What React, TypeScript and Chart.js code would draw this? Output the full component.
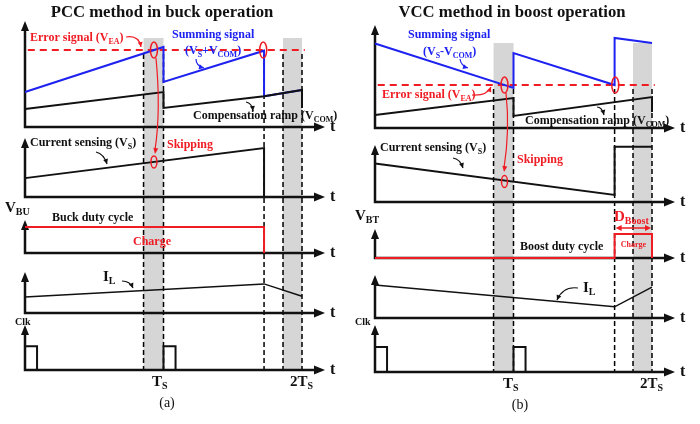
import { useEffect, useRef } from "react";
import { Chart, registerables } from "chart.js";
Chart.register(...registerables);

// ---------- data (time in units of Ts, values normalised per sub-plot: 0 = t-axis, 1 = arrow tip) ----------
const GRAY_BANDS = [[0.856, 1.0], [1.863, 2.0]];
const DASHED_T_A = [0.856, 1.0, 1.726, 1.863, 2.0];
const DASHED_T_B = [0.856, 1.0, 1.73, 1.863, 2.0];
const ERR_SPAN = [0.02, 2.02];

const CLK_T = [0, 0, 0.087, 0.087, 1.0, 1.0, 1.087, 1.087];
const CLK_V = [0, 0.53, 0.53, 0, 0, 0.53, 0.53, 0];

// (a) PCC buck
const A_VEA = 0.726;
const A_SUM_T = [0, 1.0, 1.0, 1.726, 1.726, 2.0];
const A_SUM_V = [0.33, 0.755, 0.425, 0.72, 0.29, 0.35];
const A_COMP_T = [0, 1.0, 1.0, 1.726, 2.0, 2.0];
const A_COMP_V = [0.17, 0.33, 0.18, 0.29, 0.35, 0.18];
const A_VS_T = [0, 1.726, 1.726];
const A_VS_V = [0.32, 0.83, 0];
const A_DUTY_T = [0, 1.726, 1.726];
const A_DUTY_V = [0.79, 0.79, 0];
const A_IL_T = [0, 1.726, 2.0];
const A_IL_V = [0.39, 0.71, 0.41];

// (b) VCC boost
const B_VEA = 0.417;
const B_SUM_T = [0, 1.0, 1.0, 1.73, 1.73, 2.0];
const B_SUM_V = [0.82, 0.39, 0.728, 0.417, 0.874, 0.825];
const B_COMP_T = [0, 1.0, 1.0, 2.0, 2.0];
const B_COMP_V = [0.126, 0.29, 0.117, 0.3, 0.155];
const B_VS_T = [0, 1.73, 1.73, 2.0];
const B_VS_V = [0.675, 0.125, 0.97, 0.97];
const B_DUTY_T = [0, 1.73, 1.73, 2.0, 2.0];
const B_DUTY_V = [0, 0, 0.83, 0.83, 0];
const B_IL_T = [0, 1.73, 2.0];
const B_IL_V = [0.77, 0.26, 0.72];

// ---------- styling / layout ----------
const RED = "#f01c24";
const BLUE = "#1e22f0";
const BLACK = "#111";
const GRAY = "#d6d6d6";
const W = 350;
const H = 424;
const PX_PER_TS = 138.5;
const ORIGIN_X = 25;
const SERIF = '"Liberation Serif", "Times New Roman", serif';

type Seg = [string, boolean];
type TextItem = { x: number; y: number; parts: Seg[]; size: number; color?: string; align?: string; weight?: string };
type Pointer = { p: number[]; color: string };

interface PanelCfg {
  bands: number[][]; // [arrowTipPx, axisPx] for 5 sub-plots
  grayTop: number;
  dashed: number[];
  vea: number;
  ellipses: { t: number; sub: number; v: number; rx: number; ry: number }[];
  skip: number[];
  texts: TextItem[];
  pointers: Pointer[];
  dboost?: boolean;
  datasets: { t: number[]; v: number[]; sub: number; color: string; dash?: number[]; width?: number }[];
}

const PANEL_A: PanelCfg = {
  bands: [[21, 127], [138, 197], [220, 253], [272, 313], [325, 370]],
  grayTop: 0.84,
  dashed: DASHED_T_A,
  vea: A_VEA,
  ellipses: [
    { t: 0.931, sub: 0, v: A_VEA, rx: 3.5, ry: 8 },
    { t: 1.72, sub: 0, v: A_VEA, rx: 3.5, ry: 8 },
    { t: 0.931, sub: 1, v: 0.595, rx: 3, ry: 6 },
  ],
  skip: [156, 58, 161, 110, 155, 154],
  texts: [
    { x: 162, y: 13, parts: [["PCC method in buck operation", false]], size: 16.7, align: "center" },
    { x: 30, y: 38, parts: [["Error signal (V", false], ["EA", true], [")", false]], size: 12, color: RED },
    { x: 172, y: 35, parts: [["Summing signal", false]], size: 12, color: BLUE },
    { x: 185, y: 51, parts: [["(V", false], ["S", true], ["+V", false], ["COM", true], [")", false]], size: 12, color: BLUE },
    { x: 193, y: 116, parts: [["Compensation ramp (V", false], ["COM", true], [")", false]], size: 12 },
    { x: 30, y: 143, parts: [["Current sensing (V", false], ["S", true], [")", false]], size: 12 },
    { x: 167, y: 145, parts: [["Skipping", false]], size: 12, color: RED },
    { x: 5, y: 208, parts: [["V", false], ["BU", true]], size: 15 },
    { x: 52, y: 218, parts: [["Buck duty cycle", false]], size: 12 },
    { x: 133, y: 242, parts: [["Charge", false]], size: 12, color: RED },
    { x: 103, y: 277, parts: [["I", false], ["L", true]], size: 15 },
    { x: 15, y: 322, parts: [["Clk", false]], size: 10 },
    { x: 152, y: 382, parts: [["T", false], ["S", true]], size: 15 },
    { x: 290, y: 382, parts: [["2T", false], ["S", true]], size: 15 },
    { x: 167, y: 403, parts: [["(a)", false]], size: 14, align: "center", weight: "normal" },
  ],
  pointers: [
    { p: [126, 37, 139, 35, 141, 47], color: RED },
    { p: [196, 59, 196, 66, 204, 68], color: BLUE },
    { p: [246, 102, 252, 103, 253, 111], color: BLACK },
    { p: [96, 152, 104, 154, 107, 164], color: BLACK },
    { p: [122, 281, 130, 281, 133, 288], color: BLACK },
  ],
  datasets: [
    { t: A_COMP_T, v: A_COMP_V, sub: 0, color: BLACK },
    { t: A_SUM_T, v: A_SUM_V, sub: 0, color: BLUE },
    { t: ERR_SPAN, v: [A_VEA, A_VEA], sub: 0, color: RED, dash: [7, 5] },
    { t: A_VS_T, v: A_VS_V, sub: 1, color: BLACK },
    { t: A_DUTY_T, v: A_DUTY_V, sub: 2, color: RED },
    { t: A_IL_T, v: A_IL_V, sub: 3, color: BLACK, width: 1.5 },
    { t: CLK_T, v: CLK_V, sub: 4, color: BLACK },
  ],
};

const PANEL_B: PanelCfg = {
  bands: [[25, 128], [145, 202], [229, 258], [275, 318], [325, 372]],
  grayTop: 0.825,
  dashed: DASHED_T_B,
  vea: B_VEA,
  ellipses: [
    { t: 0.935, sub: 0, v: B_VEA, rx: 3.5, ry: 8 },
    { t: 1.735, sub: 0, v: B_VEA, rx: 3.5, ry: 8 },
    { t: 0.935, sub: 1, v: 0.36, rx: 3, ry: 6 },
  ],
  skip: [156, 93, 160, 130, 154, 172],
  texts: [
    { x: 162, y: 13, parts: [["VCC method in boost operation", false]], size: 16.7, align: "center" },
    { x: 58, y: 35, parts: [["Summing signal", false]], size: 12, color: BLUE },
    { x: 73, y: 52, parts: [["(V", false], ["S", true], ["-V", false], ["COM", true], [")", false]], size: 12, color: BLUE },
    { x: 32, y: 95, parts: [["Error signal (V", false], ["EA", true], [")", false]], size: 12, color: RED },
    { x: 175, y: 121, parts: [["Compensation ramp (V", false], ["COM", true], [")", false]], size: 12 },
    { x: 30, y: 148, parts: [["Current sensing (V", false], ["S", true], [")", false]], size: 12 },
    { x: 167, y: 160, parts: [["Skipping", false]], size: 12, color: RED },
    { x: 5, y: 216, parts: [["V", false], ["BT", true]], size: 15 },
    { x: 264, y: 217, parts: [["D", false], ["Boost", true]], size: 15, color: RED },
    { x: 170, y: 247, parts: [["Boost duty cycle", false]], size: 12 },
    { x: 283.5, y: 245, parts: [["Charge", false]], size: 8, color: RED, align: "center" },
    { x: 233, y: 288, parts: [["I", false], ["L", true]], size: 15 },
    { x: 5, y: 322, parts: [["Clk", false]], size: 10 },
    { x: 153, y: 384, parts: [["T", false], ["S", true]], size: 15 },
    { x: 290, y: 384, parts: [["2T", false], ["S", true]], size: 15 },
    { x: 170, y: 405, parts: [["(b)", false]], size: 14, align: "center", weight: "normal" },
  ],
  pointers: [
    { p: [110, 59, 111, 66, 118, 68], color: BLUE },
    { p: [122, 95, 137, 96, 141, 87], color: RED },
    { p: [247, 107, 252, 107, 254, 115], color: BLACK },
    { p: [103, 158, 110, 159, 113, 168], color: BLACK },
    { p: [228, 288, 213, 286, 207, 300], color: BLACK },
  ],
  dboost: true,
  datasets: [
    { t: B_COMP_T, v: B_COMP_V, sub: 0, color: BLACK },
    { t: B_SUM_T, v: B_SUM_V, sub: 0, color: BLUE },
    { t: ERR_SPAN, v: [B_VEA, B_VEA], sub: 0, color: RED, dash: [7, 5] },
    { t: B_VS_T, v: B_VS_V, sub: 1, color: BLACK },
    { t: B_DUTY_T, v: B_DUTY_V, sub: 2, color: RED },
    { t: B_IL_T, v: B_IL_V, sub: 3, color: BLACK, width: 1.5 },
    { t: CLK_T, v: CLK_V, sub: 4, color: BLACK },
  ],
};

function drawRich(ctx: CanvasRenderingContext2D, it: TextItem) {
  const weight = it.weight ?? "bold";
  const big = `${weight} ${it.size}px ${SERIF}`;
  const small = `${weight} ${Math.round(it.size * 0.66)}px ${SERIF}`;
  let w = 0;
  for (const [s, sub] of it.parts) {
    ctx.font = sub ? small : big;
    w += ctx.measureText(s).width;
  }
  let cx = it.align === "center" ? it.x - w / 2 : it.x;
  ctx.fillStyle = it.color ?? BLACK;
  ctx.textBaseline = "middle";
  ctx.textAlign = "left";
  for (const [s, sub] of it.parts) {
    ctx.font = sub ? small : big;
    ctx.fillText(s, cx, sub ? it.y + it.size * 0.3 : it.y);
    cx += ctx.measureText(s).width;
  }
}

function arrowHead(ctx: CanvasRenderingContext2D, x: number, y: number, ang: number, len: number, half: number, color: string) {
  ctx.save();
  ctx.translate(x, y);
  ctx.rotate(ang);
  ctx.fillStyle = color;
  ctx.beginPath();
  ctx.moveTo(0, 0);
  ctx.lineTo(-len, -half);
  ctx.lineTo(-len, half);
  ctx.closePath();
  ctx.fill();
  ctx.restore();
}

function makePlugin(cfg: PanelCfg) {
  return {
    id: "diagram",
    beforeDatasetsDraw(chart: any) {
      const ctx: CanvasRenderingContext2D = chart.ctx;
      const x = chart.scales.x;
      const ys = [0, 1, 2, 3, 4].map((i) => chart.scales["y" + i]);
      ctx.save();
      // gray bands
      ctx.fillStyle = GRAY;
      const gTop = ys[0].getPixelForValue(cfg.grayTop);
      const gBot = ys[4].getPixelForValue(0);
      for (const [a, b] of GRAY_BANDS) {
        const x0 = x.getPixelForValue(a);
        const x1 = x.getPixelForValue(b);
        ctx.fillRect(x0, gTop, x1 - x0, gBot - gTop);
      }
      // dashed verticals
      ctx.strokeStyle = "#000";
      ctx.lineWidth = 1.5;
      ctx.setLineDash([5, 3]);
      const dTop = ys[0].getPixelForValue(cfg.vea) + 4;
      for (const t of cfg.dashed) {
        const px = x.getPixelForValue(t);
        ctx.beginPath();
        ctx.moveTo(px, dTop);
        ctx.lineTo(px, gBot);
        ctx.stroke();
      }
      ctx.setLineDash([]);
      // axes
      const x0 = x.getPixelForValue(0);
      const xEnd = x.getPixelForValue(2.166);
      for (const y of ys) {
        const base = y.getPixelForValue(0);
        const top = y.getPixelForValue(1);
        ctx.strokeStyle = BLACK;
        ctx.lineWidth = 2.5;
        ctx.beginPath();
        ctx.moveTo(x0, base);
        ctx.lineTo(xEnd - 8, base);
        ctx.moveTo(x0, base + 1.2);
        ctx.lineTo(x0, top + 8);
        ctx.stroke();
        arrowHead(ctx, xEnd, base, 0, 11, 4.5, BLACK);
        arrowHead(ctx, x0, top, -Math.PI / 2, 10, 4, BLACK);
        drawRich(ctx, { x: xEnd + 5, y: base, parts: [["t", false]], size: 16 });
      }
      ctx.restore();
    },
    afterDatasetsDraw(chart: any) {
      const ctx: CanvasRenderingContext2D = chart.ctx;
      const x = chart.scales.x;
      const ys = [0, 1, 2, 3, 4].map((i) => chart.scales["y" + i]);
      ctx.save();
      // ellipses
      ctx.strokeStyle = RED;
      ctx.lineWidth = 1.5;
      for (const e of cfg.ellipses) {
        ctx.beginPath();
        ctx.ellipse(x.getPixelForValue(e.t), ys[e.sub].getPixelForValue(e.v), e.rx, e.ry, 0, 0, Math.PI * 2);
        ctx.stroke();
      }
      // skipping arrow
      const s = cfg.skip;
      ctx.strokeStyle = RED;
      ctx.lineWidth = 1.2;
      ctx.beginPath();
      ctx.moveTo(s[0], s[1]);
      ctx.quadraticCurveTo(s[2], s[3], s[4], s[5] - 4);
      ctx.stroke();
      arrowHead(ctx, s[4], s[5], Math.atan2(s[5] - s[3], s[4] - s[2]), 6, 2.5, RED);
      // pointers
      for (const p of cfg.pointers) {
        const q = p.p;
        ctx.strokeStyle = p.color;
        ctx.lineWidth = 1.2;
        ctx.beginPath();
        ctx.moveTo(q[0], q[1]);
        ctx.quadraticCurveTo(q[2], q[3], q[4], q[5]);
        ctx.stroke();
        arrowHead(ctx, q[4], q[5], Math.atan2(q[5] - q[3], q[4] - q[2]), 5, 2.5, p.color);
      }
      // D_boost double arrow
      if (cfg.dboost) {
        const xa = x.getPixelForValue(1.73) + 1;
        const xb = x.getPixelForValue(2.0) - 1;
        const yy = 228;
        ctx.strokeStyle = RED;
        ctx.lineWidth = 1.5;
        ctx.beginPath();
        ctx.moveTo(xa + 5, yy);
        ctx.lineTo(xb - 5, yy);
        ctx.stroke();
        arrowHead(ctx, xb, yy, 0, 6, 3, RED);
        arrowHead(ctx, xa, yy, Math.PI, 6, 3, RED);
      }
      for (const t of cfg.texts) drawRich(ctx, t);
      ctx.restore();
    },
  };
}

function buildChart(canvas: HTMLCanvasElement, cfg: PanelCfg) {
  const scales: any = {
    x: {
      type: "linear",
      display: false,
      min: -ORIGIN_X / PX_PER_TS,
      max: (W - ORIGIN_X) / PX_PER_TS,
    },
  };
  cfg.bands.forEach(([top, base], i) => {
    const unit = base - top;
    const max = base / unit;
    scales["y" + i] = { type: "linear", display: false, min: max - H / unit, max };
  });
  const datasets = cfg.datasets.map((d) => ({
    data: d.t.map((t, i) => ({ x: t, y: d.v[i] })),
    yAxisID: "y" + d.sub,
    borderColor: d.color,
    borderWidth: d.width ?? 2,
    borderDash: d.dash ?? [],
    pointRadius: 0,
    fill: false,
    tension: 0,
    clip: false as any,
  }));
  return new Chart(canvas, {
    type: "line",
    data: { datasets },
    options: {
      animation: false,
      responsive: false,
      events: [],
      layout: { padding: 0 },
      plugins: { legend: { display: false }, tooltip: { enabled: false }, title: { display: false } },
      scales,
    },
    plugins: [makePlugin(cfg)],
  });
}

export default function App() {
  const refA = useRef<HTMLCanvasElement>(null);
  const refB = useRef<HTMLCanvasElement>(null);
  useEffect(() => {
    const ca = buildChart(refA.current!, PANEL_A);
    const cb = buildChart(refB.current!, PANEL_B);
    return () => {
      ca.destroy();
      cb.destroy();
    };
  }, []);
  return (
    <div style={{ position: "absolute", left: 0, top: 0, width: 700, height: 424, background: "#fff", display: "flex" }}>
      <canvas ref={refA} width={W} height={H} style={{ width: W, height: H, display: "block" }} />
      <canvas ref={refB} width={W} height={H} style={{ width: W, height: H, display: "block" }} />
    </div>
  );
}
